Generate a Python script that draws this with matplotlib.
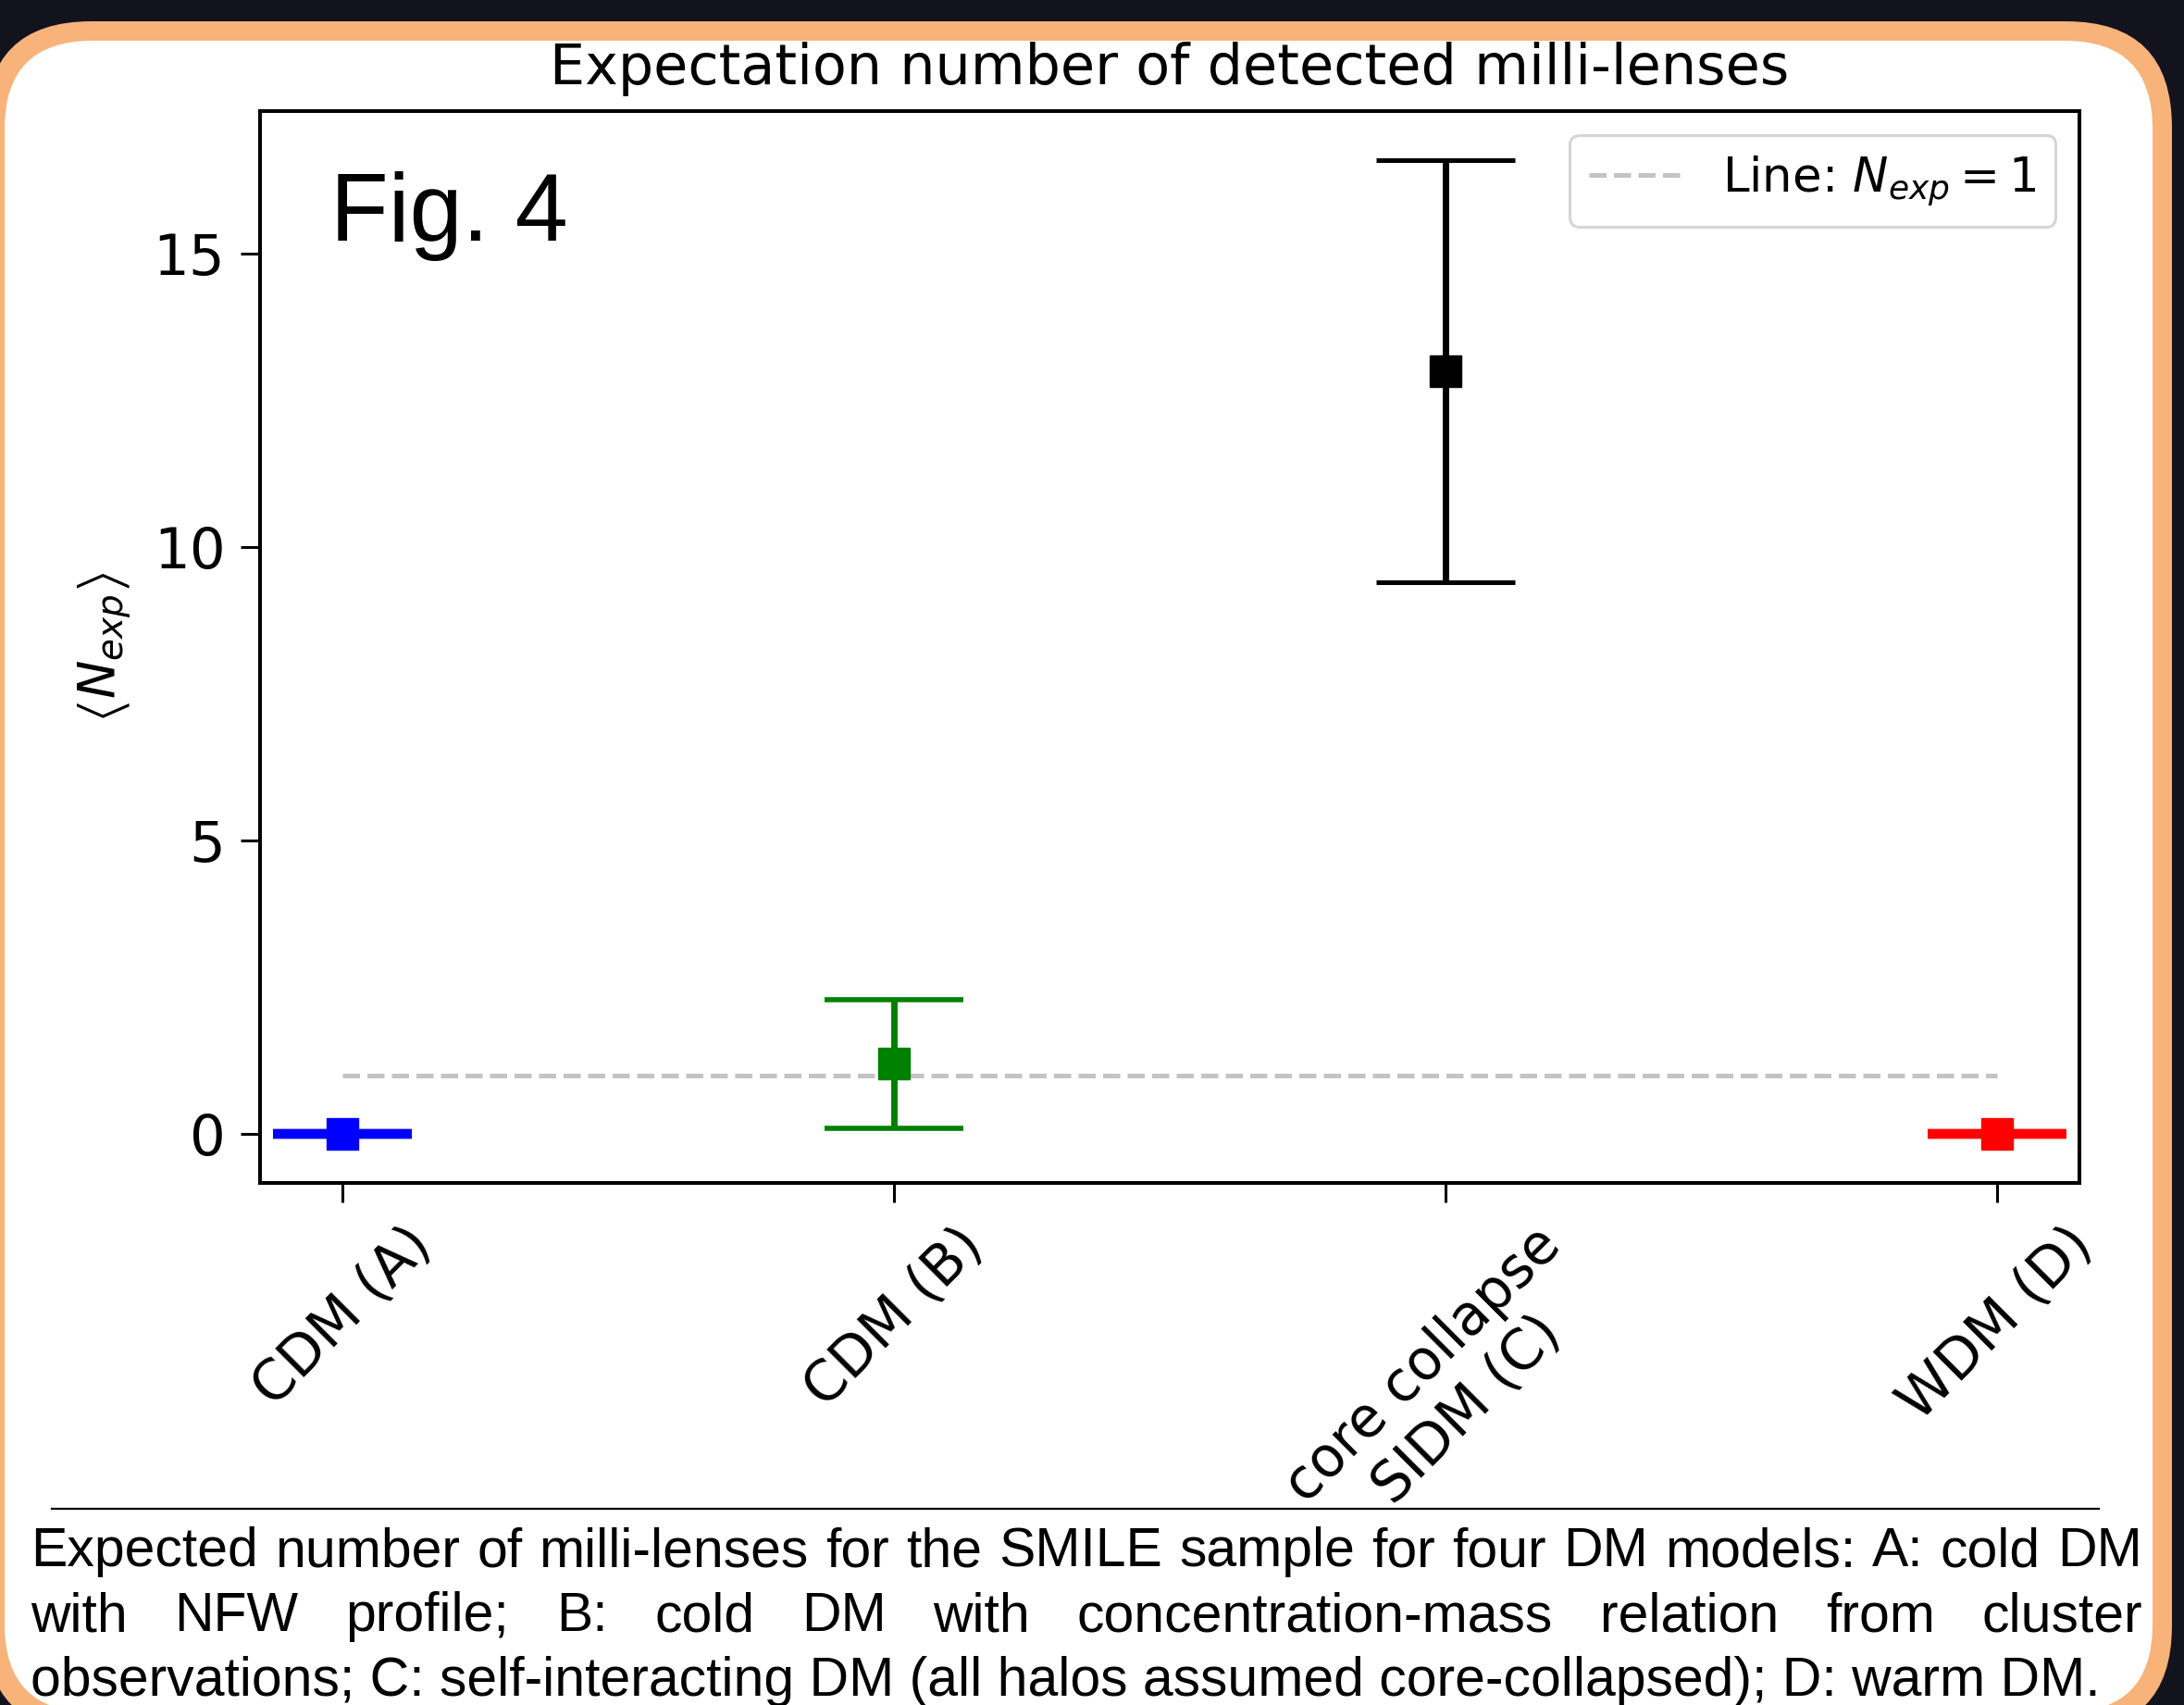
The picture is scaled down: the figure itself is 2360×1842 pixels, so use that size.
import matplotlib
matplotlib.use('Agg')
import matplotlib.pyplot as plt
from matplotlib.patches import FancyBboxPatch
from matplotlib.ticker import MultipleLocator
import numpy as np

# canvas size in pixels (dpi 100)
W, H = 2360, 1842
DPI = 100

# data
models = ['CDM (A)', 'CDM (B)', 'core collapse\nSIDM (C)', 'WDM (D)']
n_exp = [0.0, 1.2, 13.0, 0.0]
n_err = [0.0, 1.1, 3.6, 0.0]
colours = ['blue', 'green', 'black', 'red']
cap_thick = [7.5, 4.0, 3.6, 7.5]
n_line = 1

caption_lines = [
    'Expected number of milli-lenses for the SMILE sample for four DM models: A: cold DM',
    'with NFW profile; B: cold DM with concentration-mass relation from cluster',
    'observations; C: self-interacting DM (all halos assumed core-collapsed); D: warm DM.',
]

fig = plt.figure(figsize=(W / DPI, H / DPI), dpi=DPI, facecolor='#13131e')

# slide frame: orange rounded border with white card inside
bg = fig.add_axes([0, 0, 1, 1])
bg.set_xlim(0, W)
bg.set_ylim(H, 0)
bg.axis('off')
bg.add_patch(FancyBboxPatch((-16, 23), 2363, 1848, boxstyle='round,pad=0,rounding_size=115',
                            fc='#f7b37a', ec='none'))
bg.add_patch(FancyBboxPatch((5, 44), 2321, 1806, boxstyle='round,pad=0,rounding_size=95',
                            fc='white', ec='none'))
bg.plot([56, 2268], [1630, 1630], color='black', lw=1.6)

# main chart
ax = fig.add_axes([281 / W, 1 - 1278 / H, (2247 - 281) / W, (1278 - 120) / H])
x = np.arange(len(models))
for i in range(len(models)):
    ax.errorbar(x[i], n_exp[i], yerr=n_err[i], fmt='s', color=colours[i], ms=25,
                elinewidth=5, capsize=54, capthick=cap_thick[i], zorder=3)
ax.hlines(n_line, x[0], x[-1], colors='#c4c4c4', linestyles='--', lw=3.6, zorder=1,
          label=r'Line: $N_{exp} = 1$')

ax.set_xticks(x, models, rotation=45, fontsize=43)
ax.yaxis.set_major_locator(MultipleLocator(5))
ax.tick_params(axis='y', labelsize=44)
ax.tick_params(length=15, width=2.2, pad=12)
for s in ax.spines.values():
    s.set_linewidth(2.9)
ax.set_ylabel(r'$\left\langle N_{exp} \right\rangle$', fontsize=40, labelpad=16)
ax.set_title('Expectation number of detected milli-lenses', fontsize=43.5, pad=21)
leg = ax.legend(loc='upper right', fontsize=37)
leg.get_frame().set_linewidth(2.2)

ax.text(0.0387, 0.879, 'Fig. 4', transform=ax.transAxes, fontsize=74,
        family='Liberation Sans', va='baseline')

# justified caption under the chart
renderer = fig.canvas.get_renderer()
left, right = 33, 2315
baselines = [1692, 1762, 1832]
for k, line in enumerate(caption_lines):
    yb = 1 - baselines[k] / H
    if k == len(caption_lines) - 1:
        fig.text(left / W, yb, line, fontsize=42.4, family='Liberation Sans', va='baseline')
        continue
    words = line.split()
    texts = [fig.text(0, yb, w, fontsize=42.4, family='Liberation Sans', va='baseline') for w in words]
    widths = [t.get_window_extent(renderer).width for t in texts]
    gap = (right - left - sum(widths)) / (len(words) - 1)
    xpos = left
    for t, wd in zip(texts, widths):
        t.set_x(xpos / W)
        xpos += wd + gap

fig.savefig('out.png', dpi=DPI, facecolor=fig.get_facecolor())
